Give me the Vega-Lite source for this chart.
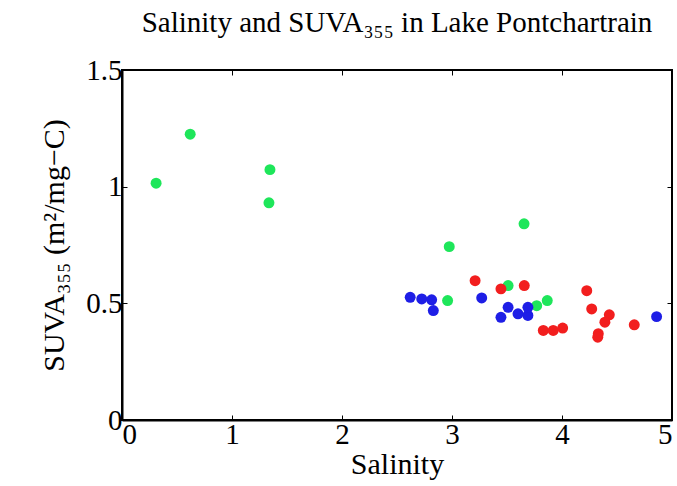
{
  "$schema": "https://vega.github.io/schema/vega-lite/v6.json",
  "width": 550,
  "height": 350,
  "autosize": "none",
  "padding": {"left": 122, "top": 70, "right": 5, "bottom": 66},
  "background": "white",
  "title": {
    "text": "Salinity and SUVA₃₅₅ in Lake Pontchartrain",
    "font": "Liberation Serif",
    "fontSize": 29,
    "fontWeight": "normal",
    "color": "black",
    "offset": 18,
    "anchor": "middle"
  },
  "config": {
    "font": "Liberation Serif",
    "style": {"guide-title": {"font": "Liberation Serif"}, "guide-label": {"font": "Liberation Serif"}},
    "view": {"stroke": "black", "strokeWidth": 2},
    "axisBottom": {"titleFont": "Liberation Serif"},
    "axis": {
      "labelFont": "Liberation Serif",
      "titleFont": "Liberation Serif",
      "labelFontSize": 29,
      "titleFontSize": 30,
      "titleFontWeight": "normal",
      "labelColor": "black",
      "titleColor": "black",
      "domainColor": "black",
      "domainWidth": 2,
      "tickColor": "black",
      "tickSize": -5,
      "grid": false
    }
  },
  "data": {
    "values": [
      {"salinity": 0.31, "suva": 1.015, "group": "g"},
      {"salinity": 0.62, "suva": 1.225, "group": "g"},
      {"salinity": 1.345, "suva": 1.073, "group": "g"},
      {"salinity": 1.336, "suva": 0.931, "group": "g"},
      {"salinity": 2.975, "suva": 0.743, "group": "g"},
      {"salinity": 3.655, "suva": 0.841, "group": "g"},
      {"salinity": 2.96, "suva": 0.512, "group": "g"},
      {"salinity": 3.51, "suva": 0.576, "group": "g"},
      {"salinity": 3.77, "suva": 0.49, "group": "g"},
      {"salinity": 3.866, "suva": 0.512, "group": "g"},
      {"salinity": 3.21, "suva": 0.597, "group": "r"},
      {"salinity": 3.445, "suva": 0.562, "group": "r"},
      {"salinity": 3.657, "suva": 0.576, "group": "r"},
      {"salinity": 4.225, "suva": 0.554, "group": "r"},
      {"salinity": 4.27, "suva": 0.476, "group": "r"},
      {"salinity": 4.43, "suva": 0.451, "group": "r"},
      {"salinity": 4.39, "suva": 0.419, "group": "r"},
      {"salinity": 4.33, "suva": 0.37, "group": "r"},
      {"salinity": 4.325, "suva": 0.355, "group": "r"},
      {"salinity": 3.83, "suva": 0.384, "group": "r"},
      {"salinity": 3.92, "suva": 0.384, "group": "r"},
      {"salinity": 4.006, "suva": 0.394, "group": "r"},
      {"salinity": 4.657, "suva": 0.408, "group": "r"},
      {"salinity": 2.62, "suva": 0.526, "group": "b"},
      {"salinity": 2.725, "suva": 0.519, "group": "b"},
      {"salinity": 2.815, "suva": 0.515, "group": "b"},
      {"salinity": 2.83, "suva": 0.469, "group": "b"},
      {"salinity": 3.27, "suva": 0.523, "group": "b"},
      {"salinity": 3.51, "suva": 0.483, "group": "b"},
      {"salinity": 3.445, "suva": 0.44, "group": "b"},
      {"salinity": 3.6, "suva": 0.455, "group": "b"},
      {"salinity": 3.69, "suva": 0.448, "group": "b"},
      {"salinity": 3.69, "suva": 0.483, "group": "b"},
      {"salinity": 4.86, "suva": 0.443, "group": "b"}
    ]
  },
  "layer": [
    {
      "mark": {"type": "circle", "size": 0, "opacity": 0},
      "encoding": {
        "x": {
          "field": "salinity",
          "type": "quantitative",
          "scale": {"domain": [0, 5], "nice": false, "zero": false},
          "axis": {"orient": "top", "values": [0, 1, 2, 3, 4, 5], "labels": false, "title": null, "domain": false}
        },
        "y": {
          "field": "suva",
          "type": "quantitative",
          "scale": {"domain": [0, 1.5], "nice": false},
          "axis": {"orient": "right", "values": [0, 0.5, 1, 1.5], "labels": false, "title": null, "domain": false}
        }
      }
    },
    {
      "mark": {"type": "circle", "size": 120, "opacity": 1},
      "encoding": {
        "x": {
          "field": "salinity",
          "type": "quantitative",
          "scale": {"domain": [0, 5], "nice": false, "zero": false},
          "axis": {"orient": "bottom", "title": "Salinity ", "values": [0, 1, 2, 3, 4, 5], "format": "d", "labelPadding": 5, "titlePadding": 0, "titleFont": "Liberation Serif"}
        },
        "y": {
          "field": "suva",
          "type": "quantitative",
          "title": "SUVA₃₅₅ (m²/mg−C)",
          "scale": {"domain": [0, 1.5], "nice": false},
          "axis": {"orient": "left", "values": [0, 0.5, 1, 1.5], "format": "~g", "labelPadding": 5, "titlePadding": 16, "titleFont": "Liberation Serif"}
        },
        "color": {
          "field": "group",
          "type": "nominal",
          "legend": null,
          "scale": {"domain": ["g", "r", "b"], "range": ["#1ee65a", "#f21e1e", "#1e1ee6"]}
        }
      }
    }
  ],
  "resolve": {"axis": {"x": "independent", "y": "independent"}}
}
